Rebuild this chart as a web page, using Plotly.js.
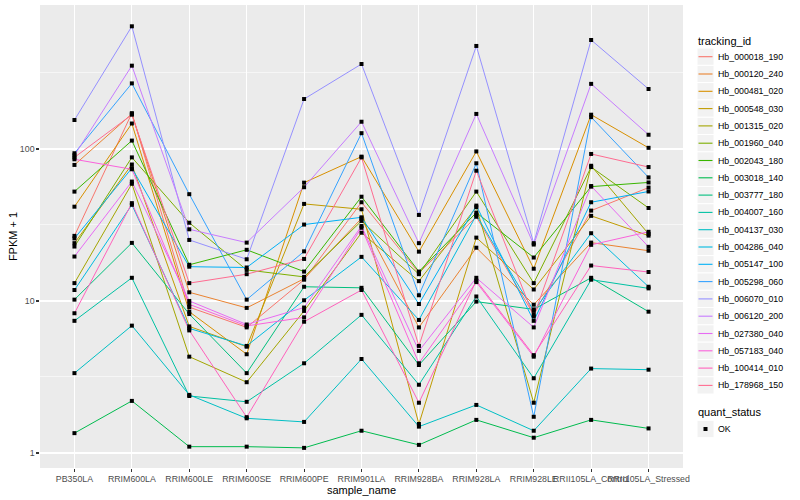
<!DOCTYPE html>
<html><head><meta charset="utf-8">
<script src="https://cdn.plot.ly/plotly-3.0.1.min.js"></script>
<style>html,body{margin:0;padding:0;background:#fff}#chart{width:800px;height:500px}</style>
</head><body><div id="chart"></div>
<script>
// ---- data ----
const samples = ["PB350LA","RRIM600LA","RRIM600LE","RRIM600SE","RRIM600PE","RRIM901LA","RRIM928BA","RRIM928LA","RRIM928LE","RRII105LA_Control","RRII105LA_Stressed"];
const trackingIds = ["Hb_000018_190","Hb_000120_240","Hb_000481_020","Hb_000548_030","Hb_001315_020","Hb_001960_040","Hb_002043_180","Hb_003018_140","Hb_003777_180","Hb_004007_160","Hb_004137_030","Hb_004286_040","Hb_005147_100","Hb_005298_060","Hb_006070_010","Hb_006120_200","Hb_027380_040","Hb_057183_040","Hb_100414_010","Hb_178968_150"];
const colors = ["#F8766D","#EA8331","#D89000","#C09B00","#A3A500","#7CAE00","#39B600","#00BB4E","#00BF7D","#00C1A3","#00BFC4","#00BAE0","#00B0F6","#35A2FF","#9590FF","#C77CFF","#E76BF3","#FA62DB","#FF62BC","#FF6C91"];
const yTickVals = [1, 10, 100];
const yTickText = ["1", "10", "100"];
const yMinorVals = [3.162, 31.62, 316.2];

const hb_000018_190 = [26.8, 172, 9.1, 6.7, 13.8, 44.6, 15.3, 35.8, 8.1, 39.3, 55.7];
const hb_000120_240 = [78.5, 170, 11.4, 9.0, 14.0, 34.9, 6.7, 22.4, 9.45, 24.2, 21.4];
const hb_000481_020 = [41.7, 147, 8.5, 4.46, 60, 89, 21.1, 96.3, 16.3, 168, 101.7];
const hb_000548_030 = [24, 79, 6.8, 5.0, 43.5, 40.1, 1.55, 26.1, 11.9, 36.3, 26.9];
const hb_001315_020 = [13.1, 59, 4.3, 2.92, 8.6, 28.1, 13.5, 41.4, 2.14, 77.5, 27.6];
const hb_001960_040 = [22.8, 88, 32.7, 16.0, 14.4, 33.6, 15.0, 52.4, 13.1, 76, 40.9];
const hb_002043_180 = [52.4, 113.5, 17.3, 21.7, 15.6, 48.5, 15.6, 38.1, 19.3, 56.5, 60.2];
const hb_003018_140 = [1.35, 2.2, 1.1, 1.1, 1.08, 1.4, 1.13, 1.65, 1.26, 1.65, 1.45];
const hb_003777_180 = [10.2, 24.1, 8.2, 3.35, 12.4, 12.2, 3.79, 9.9, 8.8, 14.2, 8.5];
const hb_004007_160 = [7.4, 14.2, 2.37, 2.17, 3.89, 8.1, 2.81, 10.7, 3.1, 13.8, 12.1];
const hb_004137_030 = [3.35, 6.88, 2.41, 1.69, 1.6, 4.15, 1.49, 2.07, 1.4, 3.59, 3.53];
const hb_004286_040 = [11.8, 42.9, 6.6, 5.06, 10.1, 19.5, 7.5, 36.7, 8.6, 27.9, 12.4];
const hb_005147_100 = [25.8, 74.7, 16.8, 16.6, 31.8, 35.5, 9.55, 42.4, 7.4, 44.6, 52.5];
const hb_005298_060 = [93.7, 270, 50.4, 10.2, 21.2, 127, 10.9, 80.5, 1.73, 162, 65];
const hb_006070_010 = [155, 641, 25.2, 18.8, 213, 362, 36.8, 476, 24, 521, 248];
const hb_006120_200 = [90.9, 353, 29.6, 24.2, 56, 151, 24.0, 170, 23.5, 268, 124];
const hb_027380_040 = [19.6, 61, 10.0, 7.0, 9.05, 31.1, 4.69, 14.2, 6.7, 57, 22.7];
const hb_057183_040 = [85.5, 73.5, 9.5, 6.85, 7.8, 30.3, 3.89, 13.3, 4.3, 23.4, 28.5];
const hb_100414_010 = [8.3, 44, 6.4, 1.72, 7.3, 11.8, 2.14, 13.6, 4.4, 17.1, 15.5];
const hb_178968_150 = [88, 168, 13.1, 15.0, 18.9, 88, 5.06, 71.9, 7.9, 92.7, 76];

const seriesValues = [hb_000018_190, hb_000120_240, hb_000481_020, hb_000548_030, hb_001315_020,
  hb_001960_040, hb_002043_180, hb_003018_140, hb_003777_180, hb_004007_160, hb_004137_030,
  hb_004286_040, hb_005147_100, hb_005298_060, hb_006070_010, hb_006120_200, hb_027380_040,
  hb_057183_040, hb_100414_010, hb_178968_150];

// ---- layout geometry (pixels) ----
const W = 800, H = 500;
const PL = 40, PR = 683, PT = 5, PB = 468;
const px2x = p => (p - PL) / (PR - PL);
const py2y = p => (PB - p) / (PB - PT);
const FONT = '"Liberation Sans", Arial, Helvetica, sans-serif';

const traces = [];
seriesValues.forEach((vals, i) => {
  traces.push({
    type: 'scatter', mode: 'lines', x: samples, y: vals, name: trackingIds[i],
    line: {color: colors[i], width: 1}, showlegend: false, hoverinfo: 'skip'
  });
});
const allX = [], allY = [];
seriesValues.forEach(vals => vals.forEach((v, j) => { allX.push(samples[j]); allY.push(v); }));
traces.push({
  type: 'scatter', mode: 'markers', x: allX, y: allY, name: 'OK',
  marker: {symbol: 'square', size: 4, color: '#000000', line: {width: 0}},
  showlegend: false, hoverinfo: 'skip'
});

// ---- manual ggplot-style legend ----
const shapes = [], annotations = [];
const keyX0 = 697, keyX1 = 714, keyH = 17.3, firstY = 56.7;
annotations.push({xref: 'paper', yref: 'paper', x: px2x(696), y: py2y(41), xanchor: 'left', yanchor: 'middle',
  text: 'tracking_id', showarrow: false, font: {family: FONT, size: 11, color: '#000'}});
trackingIds.forEach((id, i) => {
  const cy = firstY + i * keyH;
  shapes.push({type: 'rect', xref: 'paper', yref: 'paper', x0: px2x(keyX0), x1: px2x(keyX1),
    y0: py2y(cy - keyH / 2), y1: py2y(cy + keyH / 2), fillcolor: '#F2F2F2', line: {color: '#FFFFFF', width: 1}, layer: 'above'});
  shapes.push({type: 'line', xref: 'paper', yref: 'paper', x0: px2x(698.5), x1: px2x(712.5),
    y0: py2y(cy), y1: py2y(cy), line: {color: colors[i], width: 1.1}, layer: 'above'});
  annotations.push({xref: 'paper', yref: 'paper', x: px2x(716), y: py2y(cy), xanchor: 'left', yanchor: 'middle',
    text: id, showarrow: false, font: {family: FONT, size: 8.8, color: '#000'}});
});
annotations.push({xref: 'paper', yref: 'paper', x: px2x(696), y: py2y(412), xanchor: 'left', yanchor: 'middle',
  text: 'quant_status', showarrow: false, font: {family: FONT, size: 11, color: '#000'}});
shapes.push({type: 'rect', xref: 'paper', yref: 'paper', x0: px2x(keyX0), x1: px2x(keyX1),
  y0: py2y(429 - keyH / 2), y1: py2y(429 + keyH / 2), fillcolor: '#F2F2F2', line: {color: '#FFFFFF', width: 1}, layer: 'above'});
shapes.push({type: 'rect', xref: 'paper', yref: 'paper', x0: px2x(703.5), x1: px2x(707.5),
  y0: py2y(431), y1: py2y(427), fillcolor: '#000', line: {width: 0}, layer: 'above'});
annotations.push({xref: 'paper', yref: 'paper', x: px2x(716), y: py2y(429), xanchor: 'left', yanchor: 'middle',
  text: 'OK', showarrow: false, font: {family: FONT, size: 8.8, color: '#000'}});

const layout = {
  width: W, height: H,
  margin: {l: PL, r: W - PR, t: PT, b: H - PB, pad: 0},
  paper_bgcolor: '#FFFFFF', plot_bgcolor: '#EBEBEB',
  font: {family: FONT, size: 8.8, color: '#4D4D4D'},
  showlegend: false,
  xaxis: {
    type: 'category', categoryorder: 'array', categoryarray: samples,
    range: [-0.6, samples.length - 0.4],
    showgrid: true, gridcolor: '#FFFFFF', gridwidth: 1.1, zeroline: false, showline: false,
    ticks: 'outside', ticklen: 2.7, tickwidth: 1.1, tickcolor: '#333333', tickangle: 0,
    tickfont: {family: FONT, size: 8.8, color: '#4D4D4D'},
    title: {text: 'sample_name', font: {family: FONT, size: 11, color: '#000'}, standoff: 1},
    automargin: false, fixedrange: true
  },
  yaxis: {
    type: 'log', range: [-0.099, 2.947],
    tickmode: 'array', tickvals: yTickVals, ticktext: yTickText,
    showgrid: true, gridcolor: '#FFFFFF', gridwidth: 1.1, zeroline: false, showline: false,
    ticks: 'outside', ticklen: 2.7, tickwidth: 1.1, tickcolor: '#333333',
    tickfont: {family: FONT, size: 8.8, color: '#4D4D4D'},
    minor: {tickmode: 'array', tickvals: yMinorVals, showgrid: true, gridcolor: '#FFFFFF', gridwidth: 0.55, ticks: ''},
    title: {text: 'FPKM + 1', font: {family: FONT, size: 11, color: '#000'}, standoff: 0},
    automargin: false, fixedrange: true
  },
  shapes: shapes,
  annotations: annotations
};

Plotly.newPlot('chart', traces, layout, {displayModeBar: false, staticPlot: true});
</script>
</body></html>
